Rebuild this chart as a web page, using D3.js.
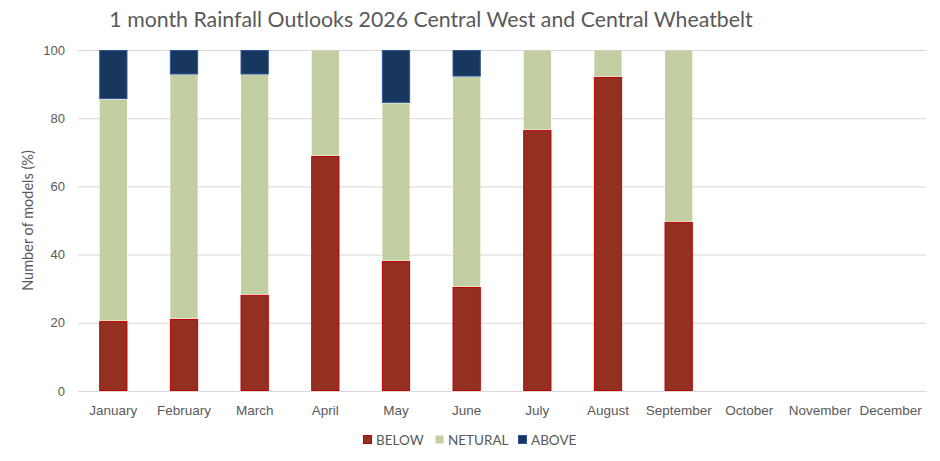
<!DOCTYPE html>
<html lang="en">
<head>
    <meta charset="UTF-8">
    <title>1 month Rainfall Outlooks 2026</title>
    <script src="https://cdn.jsdelivr.net/npm/d3@7"></script>
    <style>
        body {
            margin: 0;
            background: #fff;
            font-family: 'Lato', 'Open Sans', sans-serif;
        }
        svg text {
            fill: #595959;
        }
    </style>
</head>
<body>
    <svg id="chart"></svg>

    <script>
        const months = ["January", "February", "March", "April", "May", "June",
            "July", "August", "September", "October", "November", "December"];
        const below   = [20.5, 21.1, 28.2, 68.9, 38.1, 30.5, 76.5, 92.1, 49.6, null, null, null];
        const netural = [65.1, 71.7, 64.6, 31.1, 46.4, 61.7, 23.5, 7.9, 50.4, null, null, null];
        const above   = [14.4, 7.2, 7.2, 0, 15.5, 7.8, 0, 0, 0, null, null, null];
        const yTicks = [0, 20, 40, 60, 80, 100];

        const seriesNames = ["BELOW", "NETURAL", "ABOVE"];
        const fills = ["#943021", "#c3cea3", "#17375e"];
        const strokes = ["#c00000", "none", "#2f5597"];

        const width = 940, height = 461;
        const margin = { top: 50, right: 14, bottom: 70, left: 78 };

        const svg = d3.select("#chart")
            .attr("width", width)
            .attr("height", height);

        const rows = months.map((m, i) => ({
            month: m,
            BELOW: below[i] || 0,
            NETURAL: netural[i] || 0,
            ABOVE: above[i] || 0
        }));

        const x = d3.scaleBand()
            .domain(months)
            .range([margin.left, width - margin.right])
            .paddingInner(0.6)
            .paddingOuter(0.3);

        const y = d3.scaleLinear()
            .domain([0, 100])
            .range([height - margin.bottom, margin.top]);

        // gridlines + y labels
        const yAxis = d3.axisLeft(y)
            .tickValues(yTicks)
            .tickSize(-(width - margin.left - margin.right))
            .tickPadding(13);

        svg.append("g")
            .attr("transform", `translate(${margin.left},0)`)
            .call(yAxis)
            .call(g => g.select(".domain").remove())
            .call(g => g.selectAll("line").attr("stroke", "#d9d9d9").attr("stroke-width", 1))
            .call(g => g.selectAll("text").attr("font-size", 13).style("fill", "#595959"));

        const stack = d3.stack().keys(seriesNames);
        const layers = stack(rows);

        svg.append("g")
            .selectAll("g")
            .data(layers)
            .join("g")
            .attr("fill", (d, i) => fills[i])
            .attr("stroke", (d, i) => strokes[i])
            .attr("stroke-width", 1)
            .selectAll("rect")
            .data(d => d.filter(p => p[1] - p[0] > 0))
            .join("rect")
            .attr("x", d => x(d.data.month) + 0.5)
            .attr("width", x.bandwidth() - 1)
            .attr("y", d => y(d[1]) + 0.5)
            .attr("height", d => y(d[0]) - y(d[1]) - 1);

        // month labels
        const xAxis = d3.axisBottom(x).tickSize(0).tickPadding(14);
        svg.append("g")
            .attr("transform", `translate(0,${height - margin.bottom})`)
            .call(xAxis)
            .call(g => g.select(".domain").attr("stroke", "#d9d9d9"))
            .call(g => g.selectAll("text").attr("font-size", 13.5).style("fill", "#595959"));

        // title
        svg.append("text")
            .attr("x", 431)
            .attr("y", 27)
            .attr("text-anchor", "middle")
            .attr("font-size", 21.3)
            .text("1 month Rainfall Outlooks 2026 Central West and Central Wheatbelt");

        // y axis title
        svg.append("text")
            .attr("transform", `translate(33,${(margin.top + height - margin.bottom) / 2}) rotate(-90)`)
            .attr("text-anchor", "middle")
            .attr("font-size", 14.5)
            .text("Number of models (%)");

        // legend
        const legendX = [363, 435, 518];
        const legend = svg.append("g")
            .selectAll("g")
            .data(seriesNames)
            .join("g")
            .attr("transform", (d, i) => `translate(${legendX[i]},435)`);

        legend.append("rect")
            .attr("x", 0.5)
            .attr("y", 0.5)
            .attr("width", 8)
            .attr("height", 8)
            .attr("fill", (d, i) => fills[i])
            .attr("stroke", (d, i) => strokes[i]);

        legend.append("text")
            .attr("x", 13)
            .attr("y", 9.5)
            .attr("font-size", 13.5)
            .text(d => d);
    </script>
</body>
</html>
